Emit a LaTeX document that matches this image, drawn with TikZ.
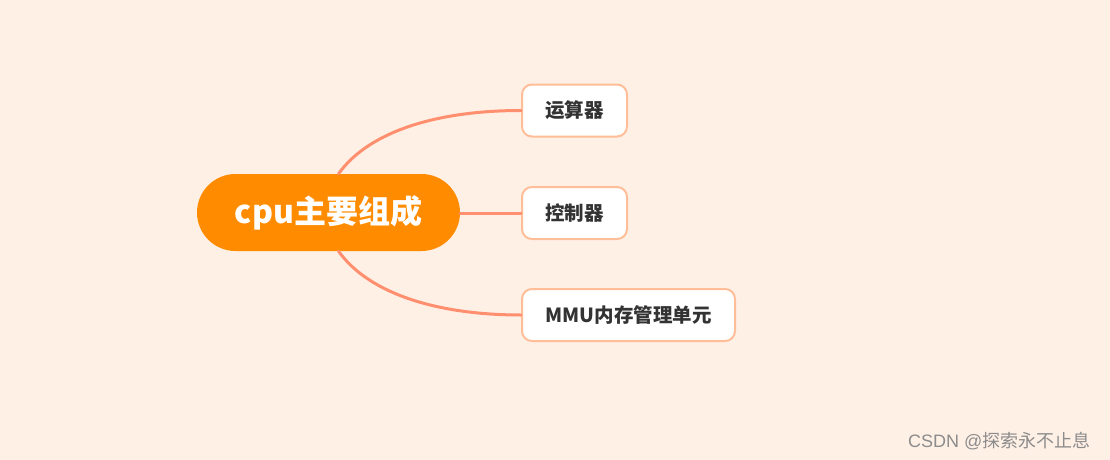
\documentclass[tikz,border=0pt]{standalone}
\usepackage{fontspec}
\setmainfont{Noto Sans CJK SC}
\newfontfamily\wmfont{Liberation Sans}
\usepackage{tikz}
\usetikzlibrary{positioning, calc}

\definecolor{bgcol}{HTML}{FFF0E6}
\definecolor{rootcol}{HTML}{FF8C00}
\definecolor{linkcol}{HTML}{FF8F6E}
\definecolor{boxcol}{HTML}{FFBE98}
\definecolor{txtcol}{HTML}{333333}

\begin{document}
\begin{tikzpicture}[
    x = 1pt, y = -1pt,
    line cap = round,
    root/.style={rectangle, rounded corners=38.5pt, fill=rootcol, text=white,
        minimum width=263pt, minimum height=77pt,
        font=\fontsize{32}{36}\selectfont\bfseries},
    leaf/.style={rectangle, rounded corners=10pt, draw=boxcol, line width=2pt,
        fill=white, text=txtcol, minimum height=52pt, inner xsep=22pt,
        font=\fontsize{19.5}{22}\selectfont\bfseries},
    link/.style={draw=linkcol, line width=3pt}
]

\fill[bgcol] (0,0) rectangle (1110,460);
\useasboundingbox (0,0) rectangle (1110,460);

% --- Root ---
\node[root] (cpu) at (328.5,212.5) {cpu主要组成};

% --- Leaves ---
\node[leaf, minimum width=105pt] (alu) at (574.5,110.5) {运算器};
\node[leaf, minimum width=105pt] (ctrl) at (574.5,213) {控制器};
\node[leaf, minimum width=213pt] (mmu) at (628.5,315) {MMU内存管理单元};

% --- Links ---
\draw[link] ($(cpu.north)+(10,0)$) .. controls (370,130) and (440,110.5) .. (alu.west);
\draw[link] (cpu.east |- ctrl.west) -- (ctrl.west);
\draw[link] ($(cpu.south)+(10,0)$) .. controls (370,295) and (440,315) .. (mmu.west);

% --- Watermark ---
\node[anchor=east, text=black!45, font=\fontsize{18}{20}\selectfont] (wm) at (1094,441) {\wmfont CSDN @{\fontspec{Noto Sans CJK SC}探索永不止息}};

\end{tikzpicture}
\end{document}
